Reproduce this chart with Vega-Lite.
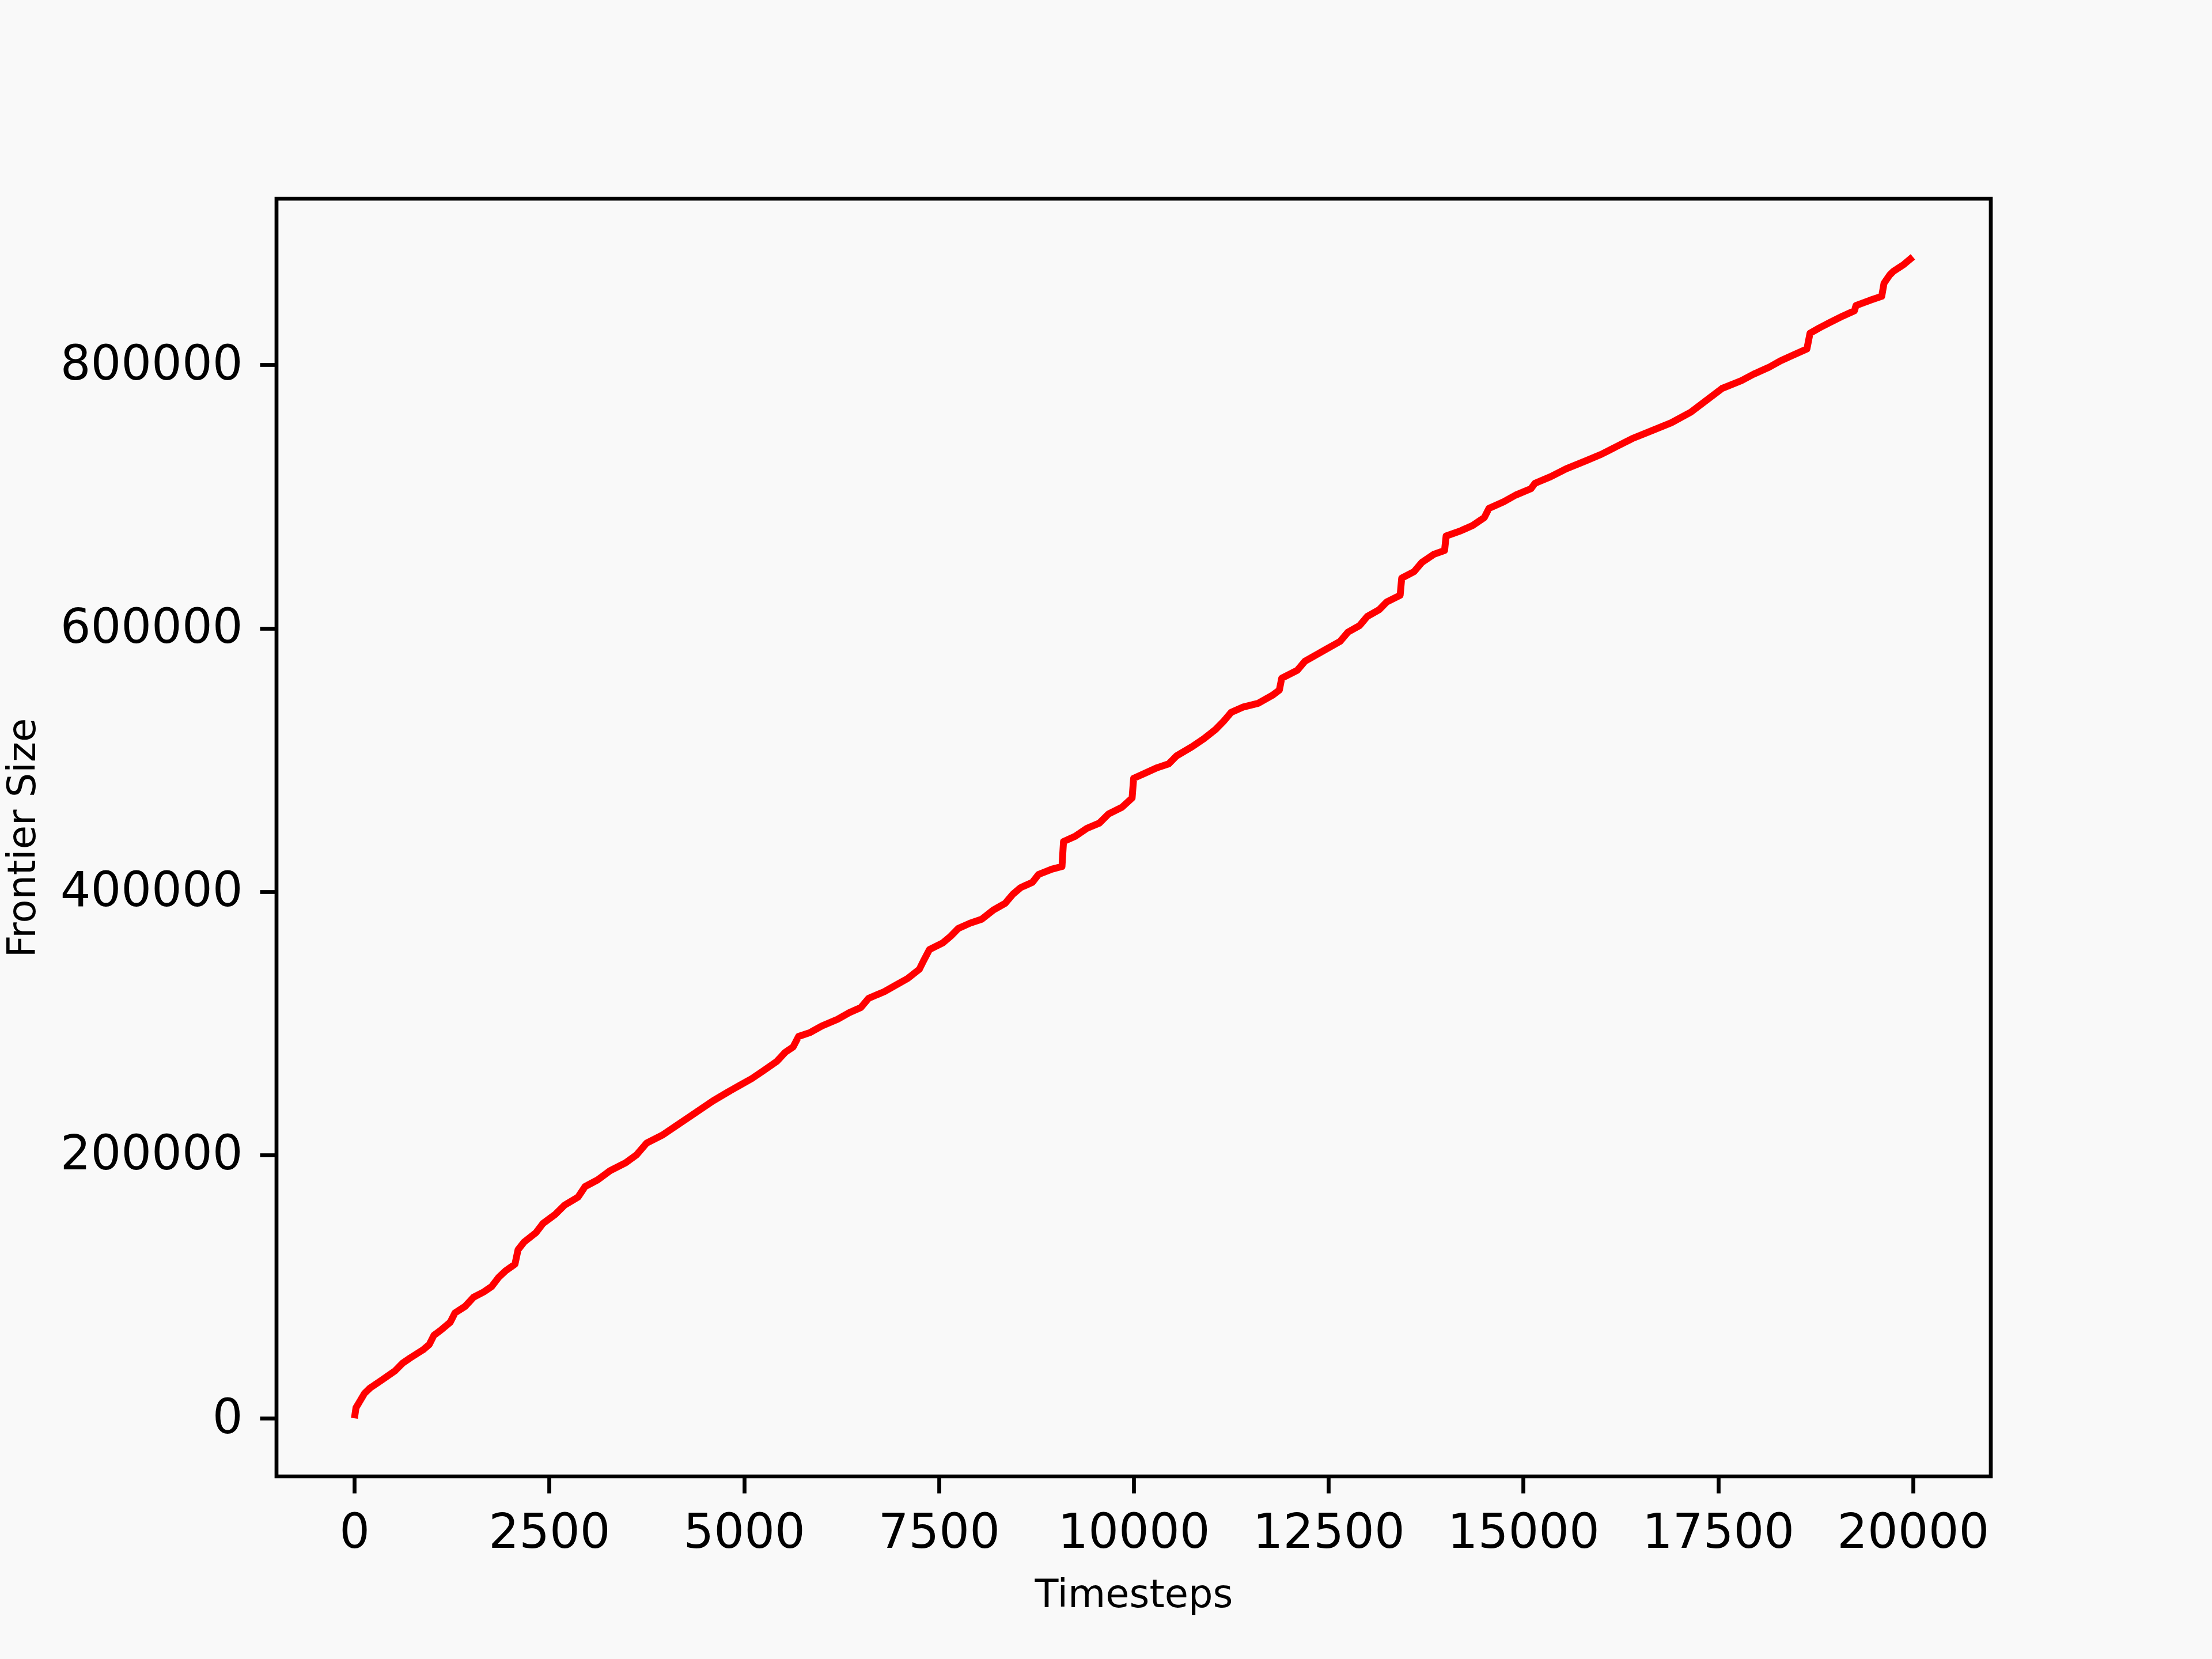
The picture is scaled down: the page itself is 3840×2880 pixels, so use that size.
{
  "$schema": "https://vega.github.io/schema/vega-lite/v6.json",
  "width": 2976,
  "height": 2218,
  "autosize": {"type": "none"},
  "padding": {"left": 480, "top": 345, "right": 384, "bottom": 317},
  "background": "#f9f9f9",
  "config": {
    "view": {"stroke": "#000000", "strokeWidth": 6.7, "fill": "#f9f9f9"},
    "axis": {
      "domain": false,
      "grid": false,
      "tickColor": "#000000",
      "tickWidth": 6.7,
      "tickSize": 29,
      "labelFont": "DejaVu Sans",
      "labelFontSize": 83,
      "labelColor": "#000000",
      "labelLimit": 2000,
      "titleFont": "DejaVu Sans",
      "titleFontSize": 67,
      "titleFontWeight": "normal",
      "titleColor": "#000000",
      "titleLimit": 3000
    }
  },
  "data": {
    "values": [
      {"t": 0, "v": 0}, {"t": 20, "v": 8000}, {"t": 60, "v": 12000}, {"t": 130, "v": 19000},
      {"t": 200, "v": 23000}, {"t": 350, "v": 29000}, {"t": 520, "v": 36000}, {"t": 620, "v": 42000},
      {"t": 720, "v": 46000}, {"t": 880, "v": 52000}, {"t": 960, "v": 56000}, {"t": 1020, "v": 63000},
      {"t": 1110, "v": 67000}, {"t": 1230, "v": 73000}, {"t": 1290, "v": 80000}, {"t": 1420, "v": 85000},
      {"t": 1530, "v": 92000}, {"t": 1660, "v": 96000}, {"t": 1760, "v": 100000}, {"t": 1850, "v": 107000},
      {"t": 1940, "v": 112000}, {"t": 2060, "v": 117000}, {"t": 2100, "v": 128000}, {"t": 2180, "v": 134000},
      {"t": 2330, "v": 141000}, {"t": 2420, "v": 148000}, {"t": 2580, "v": 155000}, {"t": 2700, "v": 162000},
      {"t": 2870, "v": 168000}, {"t": 2960, "v": 176000}, {"t": 3120, "v": 181000}, {"t": 3280, "v": 188000},
      {"t": 3480, "v": 194000}, {"t": 3620, "v": 200000}, {"t": 3750, "v": 209000}, {"t": 3950, "v": 215000},
      {"t": 4100, "v": 221000}, {"t": 4300, "v": 229000}, {"t": 4450, "v": 235000}, {"t": 4600, "v": 241000},
      {"t": 4800, "v": 248000}, {"t": 4950, "v": 253000}, {"t": 5100, "v": 258000}, {"t": 5250, "v": 264000},
      {"t": 5420, "v": 271000}, {"t": 5530, "v": 278000}, {"t": 5630, "v": 282000}, {"t": 5700, "v": 290000},
      {"t": 5850, "v": 293000}, {"t": 6000, "v": 298000}, {"t": 6200, "v": 303000}, {"t": 6350, "v": 308000},
      {"t": 6500, "v": 312000}, {"t": 6600, "v": 319000}, {"t": 6800, "v": 324000}, {"t": 6950, "v": 329000},
      {"t": 7100, "v": 334000}, {"t": 7250, "v": 341000}, {"t": 7300, "v": 347000}, {"t": 7380, "v": 356000},
      {"t": 7550, "v": 361000}, {"t": 7650, "v": 366000}, {"t": 7750, "v": 372000}, {"t": 7900, "v": 376000},
      {"t": 8050, "v": 379000}, {"t": 8200, "v": 386000}, {"t": 8350, "v": 391000}, {"t": 8450, "v": 398000},
      {"t": 8550, "v": 403000}, {"t": 8700, "v": 407000}, {"t": 8780, "v": 413000}, {"t": 8950, "v": 417000},
      {"t": 9080, "v": 419000}, {"t": 9100, "v": 438000}, {"t": 9250, "v": 442000}, {"t": 9400, "v": 448000},
      {"t": 9560, "v": 452000}, {"t": 9680, "v": 459000}, {"t": 9850, "v": 464000}, {"t": 9980, "v": 471000},
      {"t": 10000, "v": 486000}, {"t": 10150, "v": 490000}, {"t": 10300, "v": 494000}, {"t": 10450, "v": 497000},
      {"t": 10550, "v": 503000}, {"t": 10750, "v": 510000}, {"t": 10900, "v": 516000}, {"t": 11050, "v": 523000},
      {"t": 11150, "v": 529000}, {"t": 11250, "v": 536000}, {"t": 11400, "v": 540000}, {"t": 11600, "v": 543000},
      {"t": 11780, "v": 549000}, {"t": 11870, "v": 553000}, {"t": 11900, "v": 562000}, {"t": 12100, "v": 568000},
      {"t": 12200, "v": 575000}, {"t": 12350, "v": 580000}, {"t": 12500, "v": 585000}, {"t": 12650, "v": 590000},
      {"t": 12750, "v": 597000}, {"t": 12900, "v": 602000}, {"t": 13000, "v": 609000}, {"t": 13150, "v": 614000},
      {"t": 13250, "v": 620000}, {"t": 13420, "v": 625000}, {"t": 13440, "v": 638000}, {"t": 13600, "v": 643000},
      {"t": 13700, "v": 650000}, {"t": 13850, "v": 656000}, {"t": 13990, "v": 659000}, {"t": 14010, "v": 670000},
      {"t": 14200, "v": 674000}, {"t": 14350, "v": 678000}, {"t": 14500, "v": 684000}, {"t": 14560, "v": 691000},
      {"t": 14750, "v": 696000}, {"t": 14900, "v": 701000}, {"t": 15100, "v": 706000}, {"t": 15150, "v": 710000},
      {"t": 15350, "v": 715000}, {"t": 15550, "v": 721000}, {"t": 15800, "v": 727000}, {"t": 16000, "v": 732000},
      {"t": 16200, "v": 738000}, {"t": 16400, "v": 744000}, {"t": 16650, "v": 750000}, {"t": 16900, "v": 756000},
      {"t": 17150, "v": 764000}, {"t": 17350, "v": 773000}, {"t": 17550, "v": 782000}, {"t": 17800, "v": 788000},
      {"t": 17960, "v": 793000}, {"t": 18150, "v": 798000}, {"t": 18300, "v": 803000}, {"t": 18450, "v": 807000},
      {"t": 18640, "v": 812000}, {"t": 18680, "v": 824000}, {"t": 18800, "v": 828000}, {"t": 18930, "v": 832000},
      {"t": 19100, "v": 837000}, {"t": 19250, "v": 841000}, {"t": 19270, "v": 845000}, {"t": 19450, "v": 849000},
      {"t": 19600, "v": 852000}, {"t": 19630, "v": 862000}, {"t": 19700, "v": 868000}, {"t": 19750, "v": 871000},
      {"t": 19880, "v": 876000}, {"t": 20000, "v": 882000}
    ]
  },
  "mark": {"type": "line", "color": "#ff0000", "strokeWidth": 12, "strokeJoin": "round", "clip": true},
  "encoding": {
    "x": {
      "field": "t", "type": "quantitative",
      "scale": {"domain": [-1000, 21000], "nice": false, "zero": false},
      "axis": {"values": [0, 2500, 5000, 7500, 10000, 12500, 15000, 17500, 20000], "format": "d", "title": "Timesteps", "labelPadding": 28, "titlePadding": 33, "labelFlush": false}
    },
    "y": {
      "field": "v", "type": "quantitative",
      "scale": {"domain": [-44100, 926100], "nice": false, "zero": false},
      "axis": {"values": [0, 200000, 400000, 600000, 800000], "format": "d", "title": "Frontier Size", "labelPadding": 30, "titleX": -440, "titleY": 1109, "titleAngle": -90, "titleBaseline": "middle", "titleAlign": "center", "labelFlush": false}
    }
  }
}
